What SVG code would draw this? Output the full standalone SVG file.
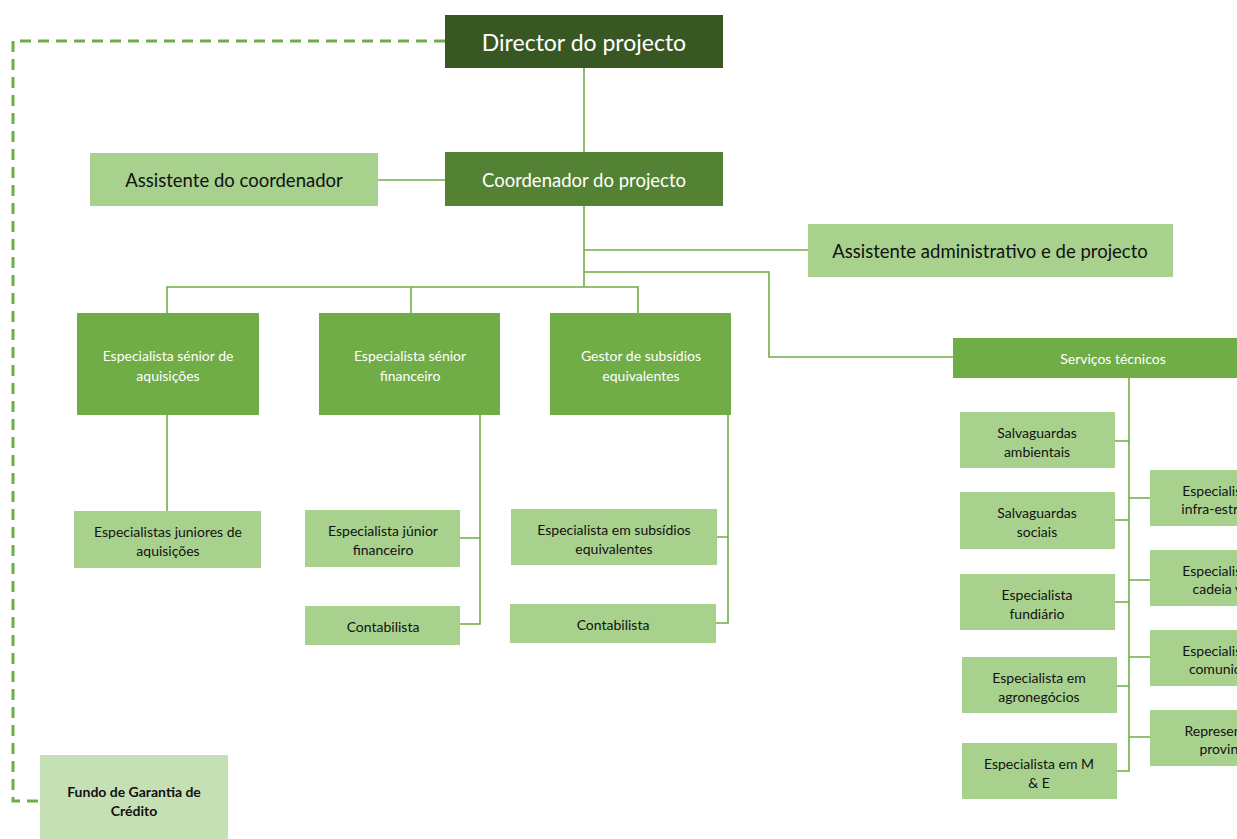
<svg xmlns="http://www.w3.org/2000/svg" width="1237" height="839" viewBox="0 0 1237 839">
  <style>
    text { font-family: Lato, "Open Sans", "Liberation Sans", sans-serif; text-anchor: middle; dominant-baseline: central; }
    .dark { fill: #385723; }
    .mid { fill: #548235; }
    .green { fill: #70AD47; }
    .light { fill: #A9D18E; }
    .pale { fill: #C5E0B4; }
    .tw { fill: #FFFFFF; }
    .tb { fill: #111111; }
    .big { font-size: 23px; }
    .med { font-size: 18.5px; }
    .sm { font-size: 14px; }
    .bold { font-weight: bold; }
    .link { fill: none; stroke: #70AD47; stroke-width: 1.6; }
    .dash { fill: none; stroke: #70AD47; stroke-width: 3; stroke-dasharray: 11 7; }
  </style>
  <rect width="1237" height="839" fill="#FFFFFF"/>

  <g id="connectors">
    <path class="dash" d="M445,41 H13 V801 H40"/>
    <path class="link" d="M584,68 V152"/>
    <path class="link" d="M378,180 H445"/>
    <path class="link" d="M584,206 V287"/>
    <path class="link" d="M584,250 H808"/>
    <path class="link" d="M584,272 H769 V357 H953"/>
    <path class="link" d="M167,313 V287 H638 V313"/>
    <path class="link" d="M411,287 V313"/>
    <path class="link" d="M167,415 V511"/>
    <path class="link" d="M480,415 V624 H460 M480,538 H460"/>
    <path class="link" d="M728,415 V623 H716 M728,537 H717"/>
    <path class="link" d="M1129,378 V771 H1117"/>
    <path class="link" d="M1129,441 H1115 M1129,520 H1115 M1129,602 H1115 M1129,686 H1117"/>
    <path class="link" d="M1129,498 H1150 M1129,580 H1150 M1129,657 H1150 M1129,737 H1150"/>
  </g>

  <g id="director">
    <rect class="dark" x="445" y="15" width="278" height="53"/>
    <text class="tw big" x="584" y="42">Director do projecto</text>
  </g>
  <g id="coordenador">
    <rect class="mid" x="445" y="152" width="278" height="54"/>
    <text class="tw med" x="584" y="180">Coordenador do projecto</text>
  </g>
  <g id="assistente-coordenador">
    <rect class="light" x="90" y="153" width="288" height="53"/>
    <text class="tb med" x="234" y="180">Assistente do coordenador</text>
  </g>
  <g id="assistente-administrativo">
    <rect class="light" x="808" y="224" width="365" height="53"/>
    <text class="tb med" x="990" y="251">Assistente administrativo e de projecto</text>
  </g>

  <g id="senior-aquisicoes">
    <rect class="green" x="77" y="313" width="182" height="102"/>
    <text class="tw sm" x="168" y="355">Especialista sénior de</text>
    <text class="tw sm" x="168" y="375">aquisições</text>
  </g>
  <g id="senior-financeiro">
    <rect class="green" x="319" y="313" width="181" height="102"/>
    <text class="tw sm" x="410" y="355">Especialista sénior</text>
    <text class="tw sm" x="410" y="375">financeiro</text>
  </g>
  <g id="gestor-subsidios">
    <rect class="green" x="550" y="313" width="181" height="102"/>
    <text class="tw sm" x="641" y="355">Gestor de subsídios</text>
    <text class="tw sm" x="641" y="375">equivalentes</text>
  </g>

  <g id="juniores-aquisicoes">
    <rect class="light" x="74" y="511" width="187" height="57"/>
    <text class="tb sm" x="168" y="531">Especialistas juniores de</text>
    <text class="tb sm" x="168" y="550">aquisições</text>
  </g>
  <g id="junior-financeiro">
    <rect class="light" x="305" y="510" width="155" height="57"/>
    <text class="tb sm" x="383" y="530">Especialista júnior</text>
    <text class="tb sm" x="383" y="549">financeiro</text>
  </g>
  <g id="contabilista-1">
    <rect class="light" x="305" y="606" width="155" height="39"/>
    <text class="tb sm" x="383" y="626">Contabilista</text>
  </g>
  <g id="especialista-subsidios">
    <rect class="light" x="511" y="509" width="206" height="56"/>
    <text class="tb sm" x="614" y="529">Especialista em subsídios</text>
    <text class="tb sm" x="614" y="548">equivalentes</text>
  </g>
  <g id="contabilista-2">
    <rect class="light" x="510" y="604" width="206" height="39"/>
    <text class="tb sm" x="613" y="624">Contabilista</text>
  </g>

  <g id="servicos-tecnicos">
    <rect class="green" x="953" y="338" width="300" height="40"/>
    <text class="tw sm" x="1113" y="358">Serviços técnicos</text>
  </g>

  <g id="salvaguardas-ambientais">
    <rect class="light" x="960" y="412" width="155" height="56"/>
    <text class="tb sm" x="1037" y="432">Salvaguardas</text>
    <text class="tb sm" x="1037" y="451">ambientais</text>
  </g>
  <g id="salvaguardas-sociais">
    <rect class="light" x="960" y="492" width="155" height="57"/>
    <text class="tb sm" x="1037" y="512">Salvaguardas</text>
    <text class="tb sm" x="1037" y="531">sociais</text>
  </g>
  <g id="especialista-fundiario">
    <rect class="light" x="960" y="574" width="155" height="56"/>
    <text class="tb sm" x="1037" y="594">Especialista</text>
    <text class="tb sm" x="1037" y="613">fundiário</text>
  </g>
  <g id="especialista-agronegocios">
    <rect class="light" x="962" y="657" width="155" height="56"/>
    <text class="tb sm" x="1039" y="677">Especialista em</text>
    <text class="tb sm" x="1039" y="696">agronegócios</text>
  </g>
  <g id="especialista-me">
    <rect class="light" x="962" y="743" width="155" height="56"/>
    <text class="tb sm" x="1039" y="763">Especialista em M</text>
    <text class="tb sm" x="1039" y="782">&amp; E</text>
  </g>

  <!-- right-hand column runs past the page edge -->
  <g id="especialista-infraestruturas">
    <rect class="light" x="1150" y="470" width="155" height="56"/>
    <text class="tb sm" x="1229" y="490">Especialista em</text>
    <text class="tb sm" x="1229" y="508">infra-estruturas</text>
  </g>
  <g id="especialista-cadeia">
    <rect class="light" x="1150" y="550" width="155" height="56"/>
    <text class="tb sm" x="1229" y="570">Especialista em</text>
    <text class="tb sm" x="1229" y="588">cadeia valor</text>
  </g>
  <g id="especialista-comunicacao">
    <rect class="light" x="1150" y="630" width="155" height="56"/>
    <text class="tb sm" x="1229" y="650">Especialista em</text>
    <text class="tb sm" x="1229" y="668">comunicação</text>
  </g>
  <g id="representante-provincial">
    <rect class="light" x="1150" y="710" width="155" height="56"/>
    <text class="tb sm" x="1229" y="730">Representante</text>
    <text class="tb sm" x="1229" y="748">provincial</text>
  </g>

  <g id="fundo-garantia">
    <rect class="pale" x="40" y="755" width="188" height="95"/>
    <text class="tb sm bold" x="134" y="791">Fundo de Garantia de</text>
    <text class="tb sm bold" x="134" y="810">Crédito</text>
  </g>
</svg>
